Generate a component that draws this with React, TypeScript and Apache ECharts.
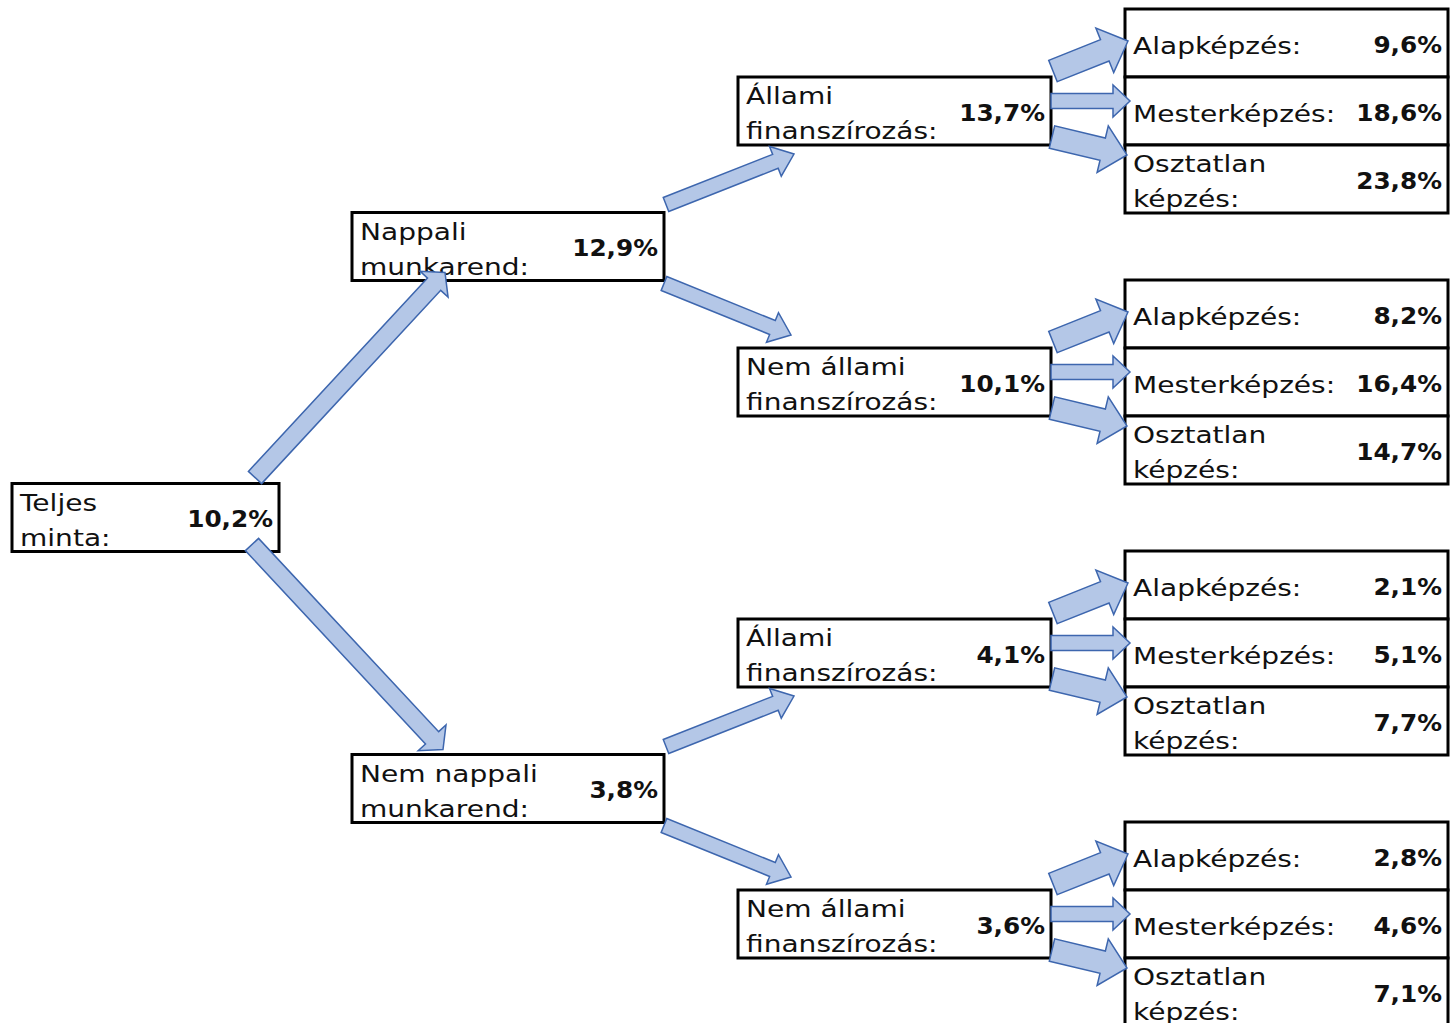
import React, { useEffect, useRef } from "react";
import * as echarts from "echarts";

// ---- data ----
const rootLabel = "Teljes\nminta:";
const rootValue = 10.2;
const level1Labels = ["Nappali\nmunkarend:", "Nem nappali\nmunkarend:"];
const level1Values = [12.9, 3.8];
const level2Labels = [
  "Állami\nfinanszírozás:",
  "Nem állami\nfinanszírozás:",
  "Állami\nfinanszírozás:",
  "Nem állami\nfinanszírozás:",
];
const level2Values = [13.7, 10.1, 4.1, 3.6];
const leafLabels = ["Alapképzés:", "Mesterképzés:", "Osztatlan\nképzés:"];
const leafValues = [
  [9.6, 18.6, 23.8],
  [8.2, 16.4, 14.7],
  [2.1, 5.1, 7.7],
  [2.8, 4.6, 7.1],
];

// ---- style / layout ----
const FONT = "DejaVu Sans, Verdana, sans-serif";
const TEXT_COLOR = "#111111";
const ARROW_FILL = "#B4C7E7";
const ARROW_STROKE = "#3D66AE";
const ROW_H = 68;
const GROUP_STEP = 271;
const MID_TOP0 = 77;
const COLS = {
  root: { left: 12, w: 267 },
  l1: { left: 352, w: 312 },
  l2: { left: 738, w: 313 },
  leaf: { left: 1125, w: 323 },
};

const fmt = (v: number) => v.toFixed(1).replace(".", ",") + "%";

type Box = { left: number; top: number; right: number; bottom: number; cy: number };
const mkBox = (left: number, w: number, top: number): Box => ({
  left,
  top,
  right: left + w,
  bottom: top + ROW_H,
  cy: top + ROW_H / 2,
});

function arrow(
  tail: [number, number],
  tip: [number, number],
  shaft: number,
  head: number,
  headLen: number
) {
  const dx = tip[0] - tail[0];
  const dy = tip[1] - tail[1];
  const L = Math.sqrt(dx * dx + dy * dy);
  const ux = dx / L;
  const uy = dy / L;
  const nx = -uy;
  const ny = ux;
  const bx = tip[0] - ux * headLen;
  const by = tip[1] - uy * headLen;
  const s = shaft / 2;
  const h = head / 2;
  const points = [
    [tail[0] + nx * s, tail[1] + ny * s],
    [bx + nx * s, by + ny * s],
    [bx + nx * h, by + ny * h],
    [tip[0], tip[1]],
    [bx - nx * h, by - ny * h],
    [bx - nx * s, by - ny * s],
    [tail[0] - nx * s, tail[1] - ny * s],
  ];
  return {
    type: "polygon",
    z: 10,
    shape: { points },
    style: { fill: ARROW_FILL, stroke: ARROW_STROKE, lineWidth: 1.5, lineJoin: "miter" },
  };
}

function boxRect(b: Box) {
  return {
    type: "rect",
    z: 1,
    shape: { x: b.left, y: b.top, width: b.right - b.left, height: b.bottom - b.top },
    style: { fill: "#ffffff", stroke: "#000000", lineWidth: 3 },
  };
}

function labelText(b: Box, text: string) {
  return {
    type: "text",
    z: 5,
    x: b.left + 8,
    y: b.cy + 2.5,
    scaleX: 1.22,
    style: {
      text,
      fill: TEXT_COLOR,
      fontFamily: FONT,
      fontSize: 23,
      lineHeight: 35,
      align: "left",
      verticalAlign: "middle",
    },
  };
}

function valueText(b: Box, v: number) {
  return {
    type: "text",
    z: 5,
    x: b.right - 6,
    y: b.cy + 2,
    scaleX: 1.1,
    style: {
      text: fmt(v),
      fill: TEXT_COLOR,
      fontFamily: FONT,
      fontSize: 22.5,
      fontWeight: "bold",
      align: "right",
      verticalAlign: "middle",
    },
  };
}

function buildGraphic() {
  const els: any[] = [];
  const midBoxes = level2Labels.map((_, i) =>
    mkBox(COLS.l2.left, COLS.l2.w, MID_TOP0 + i * GROUP_STEP)
  );
  const l1Boxes = level1Labels.map((_, i) =>
    mkBox(COLS.l1.left, COLS.l1.w, (midBoxes[2 * i].top + midBoxes[2 * i + 1].top) / 2)
  );
  const rootBox = mkBox(COLS.root.left, COLS.root.w, (l1Boxes[0].top + l1Boxes[1].top) / 2);

  // root
  els.push(boxRect(rootBox), labelText(rootBox, rootLabel), valueText(rootBox, rootValue));
  // level 1
  l1Boxes.forEach((b, i) => {
    els.push(boxRect(b), labelText(b, level1Labels[i]), valueText(b, level1Values[i]));
  });
  // level 2
  midBoxes.forEach((b, i) => {
    els.push(boxRect(b), labelText(b, level2Labels[i]), valueText(b, level2Values[i]));
  });
  // leaves
  midBoxes.forEach((mb, g) => {
    leafLabels.forEach((lab, k) => {
      const lb = mkBox(COLS.leaf.left, COLS.leaf.w, mb.top - ROW_H + k * ROW_H);
      els.push(boxRect(lb), labelText(lb, lab), valueText(lb, leafValues[g][k]));
    });
  });

  // arrows root -> level1
  els.push(
    arrow(
      [rootBox.right - 24, rootBox.top - 6],
      [l1Boxes[0].left + 93, l1Boxes[0].bottom - 8],
      18,
      38,
      16
    )
  );
  els.push(
    arrow(
      [rootBox.right - 27, rootBox.bottom - 7],
      [l1Boxes[1].left + 91, l1Boxes[1].top - 5],
      18,
      38,
      16
    )
  );
  // arrows level1 -> level2
  l1Boxes.forEach((b, i) => {
    const up = midBoxes[2 * i];
    const down = midBoxes[2 * i + 1];
    els.push(arrow([b.right + 2, b.top - 8], [up.left + 56, up.bottom + 9], 15, 32, 20));
    els.push(arrow([b.right + 0, b.bottom + 3], [down.left + 53, down.top - 13], 15, 32, 20));
  });
  // arrows level2 -> leaves
  midBoxes.forEach((mb) => {
    const leafL = COLS.leaf.left;
    const row0cy = mb.top - ROW_H / 2;
    els.push(arrow([mb.right + 2, mb.top - 6], [leafL + 3, row0cy - 2], 23, 48, 25));
    els.push(arrow([mb.right, mb.cy - 10], [leafL + 5, mb.cy - 10], 15, 32, 17));
    els.push(arrow([mb.right + 1, mb.bottom - 8], [leafL + 2, mb.bottom + 10], 23, 48, 25));
  });

  return els;
}

export default function App() {
  const ref = useRef<HTMLDivElement>(null);
  useEffect(() => {
    if (!ref.current) return;
    const chart = echarts.init(ref.current, undefined, { renderer: "svg" });
    chart.setOption({
      animation: false,
      backgroundColor: "#ffffff",
      graphic: { elements: buildGraphic() },
    });
    return () => chart.dispose();
  }, []);
  return (
    <div
      ref={ref}
      style={{ position: "fixed", left: 0, top: 0, width: 1451, height: 1023, background: "#fff" }}
    />
  );
}
